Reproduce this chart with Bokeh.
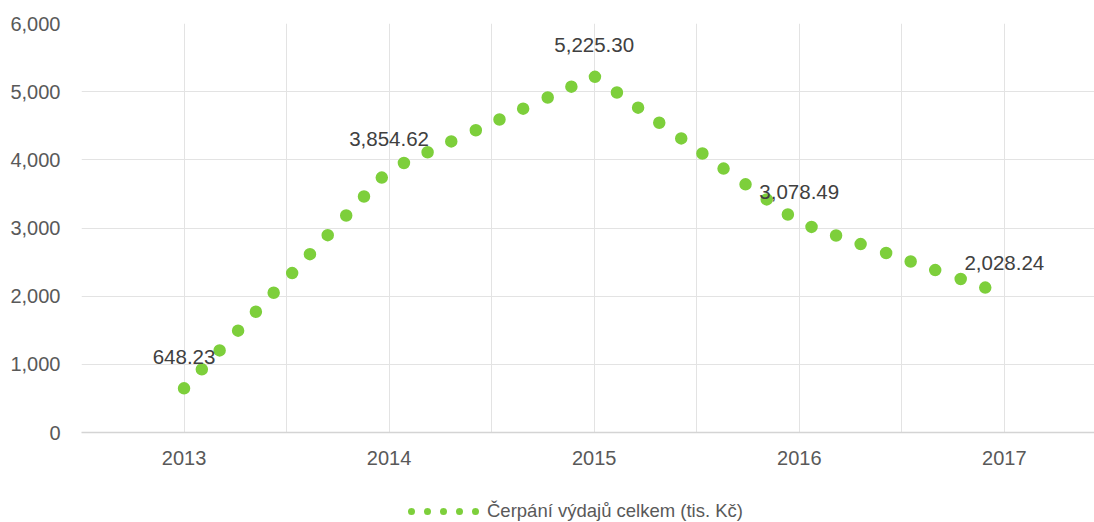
from bokeh.plotting import figure
from bokeh.layouts import column
from bokeh.models import (Range1d, FixedTicker, NumeralTickFormatter, Legend,
                          LegendItem, ColumnDataSource)
from bokeh.embed import file_html
from bokeh.resources import INLINE
from bokeh.core.properties import value

# ---- data ----
years = [2013, 2014, 2015, 2016, 2017]
spending = [648.23, 3854.62, 5225.30, 3078.49, 2028.24]
series_name = "Čerpání výdajů celkem (tis. Kč)"
y_ticks = [0, 1000, 2000, 3000, 4000, 5000, 6000]

# ---- styles ----
FONT = "Liberation Sans"
GREEN = "#7dcf3b"
GRID = "#e3e3e3"

labels = [f"{v:,.2f}" for v in spending]
src = ColumnDataSource(dict(x=years, y=spending, label=labels))

p = figure(width=1094, height=482, output_backend="svg", toolbar_location=None,
           x_range=Range1d(years[0] - 0.5, 2017.4396), y_range=Range1d(0, 6000),
           min_border_left=81, min_border_right=0, min_border_top=23,
           min_border_bottom=50)
p.outline_line_color = None

# main round-dot line
p.line(x="x", y="y", source=src, line_width=12.5, line_dash="0 26 0 26 0 27",
       line_cap="round", line_color=GREEN)

# data labels
p.text(x="x", y="y", text="label", source=src, text_align="center",
       text_baseline="alphabetic", y_offset=-31, text_font=value(FONT),
       text_font_size="20.5px", text_color="#404040")

# axes
p.xaxis.ticker = FixedTicker(ticks=years)
p.yaxis.ticker = FixedTicker(ticks=y_ticks)
p.yaxis.formatter = NumeralTickFormatter(format="0,0")
for ax in (p.xaxis[0], p.yaxis[0]):
    ax.major_tick_line_color = None
    ax.minor_tick_line_color = None
    ax.major_tick_out = 0
    ax.major_tick_in = 0
    ax.major_label_text_font = FONT
    ax.major_label_text_font_size = "20px"
    ax.major_label_text_color = "#595959"
p.yaxis.axis_line_color = None
p.yaxis.major_label_standoff = 21
p.xaxis.axis_line_color = "#d4d4d4"
p.xaxis.axis_line_width = 1.5
p.xaxis.major_label_standoff = 18

# grids
grid_ticks = [years[0] - 0.5] + [v for y in years for v in (y, y + 0.5)]
p.xgrid.ticker = FixedTicker(ticks=grid_ticks)
p.xgrid.grid_line_color = GRID
p.ygrid.grid_line_color = GRID

# ---- legend strip under the chart ----
pl = figure(width=1094, height=40, output_backend="svg", toolbar_location=None,
            x_range=Range1d(0, 1), y_range=Range1d(0, 1),
            x_axis_type=None, y_axis_type=None, min_border=0)
pl.outline_line_color = None
r_leg = pl.line(x="x", y="y", source=src, line_width=7, line_dash="0 16",
                line_dash_offset=12, line_cap="round", line_color=GREEN,
                visible=False)
legend = Legend(items=[LegendItem(label=series_name, renderers=[r_leg])],
                location=(326, 0), orientation="horizontal",
                padding=0, margin=0, glyph_width=72,
                glyph_height=22, label_height=22, label_standoff=8,
                border_line_color=None, background_fill_alpha=0,
                inactive_fill_alpha=0,
                label_text_font=FONT, label_text_font_size="18.5px",
                label_text_color="#595959")
pl.add_layout(legend)

open("out.html", "w").write(file_html(column(p, pl, spacing=0), INLINE))
